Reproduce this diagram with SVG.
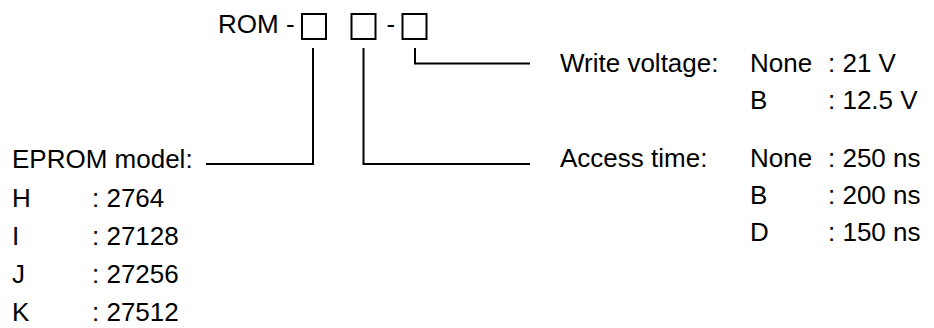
<svg xmlns="http://www.w3.org/2000/svg" width="934" height="328" viewBox="0 0 934 328">
<style>
text{font-family:"Liberation Sans",Arial,sans-serif;font-size:26px;fill:#000}
.box{fill:none;stroke:#000;stroke-width:2}
.ln{fill:none;stroke:#000;stroke-width:2}
</style>
<rect width="934" height="328" fill="#fff"/>
<g id="code">
<text x="218" y="33">ROM -</text>
<rect class="box" x="302" y="14" width="24" height="25"/>
<rect class="box" x="351.5" y="14" width="24" height="25"/>
<text x="386.5" y="33">-</text>
<rect class="box" x="402.5" y="14" width="24" height="25"/>
</g>
<g id="connectors">
<path class="ln" d="M313 48V164H206"/>
<path class="ln" d="M363.5 48V164H530"/>
<path class="ln" d="M415 48V63.5H530"/>
</g>
<g id="eprom-model">
<text x="12" y="168">EPROM model:</text>
<text x="12" y="207">H</text><text x="92" y="207">: 2764</text>
<text x="12" y="245">I</text><text x="92" y="245">: 27128</text>
<text x="12" y="283">J</text><text x="92" y="283">: 27256</text>
<text x="12" y="321">K</text><text x="92" y="321">: 27512</text>
</g>
<g id="write-voltage">
<text x="560" y="71.5">Write voltage:</text>
<text x="750" y="71.5">None</text><text x="828" y="71.5">: 21 V</text>
<text x="750" y="108.5">B</text><text x="828" y="108.5">: 12.5 V</text>
</g>
<g id="access-time">
<text x="560" y="167">Access time:</text>
<text x="750" y="167">None</text><text x="828" y="167">: 250 ns</text>
<text x="750" y="204">B</text><text x="828" y="204">: 200 ns</text>
<text x="750" y="241">D</text><text x="828" y="241">: 150 ns</text>
</g>
</svg>
